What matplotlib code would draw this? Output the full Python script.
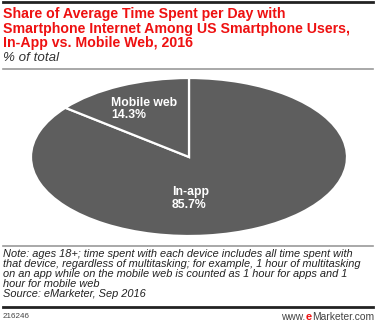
import matplotlib
matplotlib.use("Agg")
from matplotlib import pyplot as plt
from matplotlib.lines import Line2D

plt.rcParams['font.family'] = ['Liberation Sans', 'DejaVu Sans']

# data
labels = ['In-app', 'Mobile web']
values = [85.7, 14.3]
title_lines = ["Share of Average Time Spent per Day with",
               "Smartphone Internet Among US Smartphone Users,",
               "In-App vs. Mobile Web, 2016"]
subtitle = "% of total"
note_lines = ["Note: ages 18+; time spent with each device includes all time spent with",
              "that device, regardless of multitasking; for example, 1 hour of multitasking",
              "on an app while on the mobile web is counted as 1 hour for apps and 1",
              "hour for mobile web",
              "Source: eMarketer, Sep 2016"]
chart_id = "216246"

W, H = 376, 324
fig = plt.figure(figsize=(W / 100, H / 100), dpi=100)
fig.patch.set_facecolor('white')

def px(x, y):
    return x / W, 1 - y / H

# rules
def hline(y, lw, color, x0=3, x1=373):
    a, b = px(x0, y)
    c, _ = px(x1, y)
    fig.add_artist(Line2D([a, c], [b, b], color=color, linewidth=lw, transform=fig.transFigure))

hline(2, 2.0, '#222222')
hline(69, 1.2, '#9a9a9a')
hline(246, 1.2, '#9a9a9a')
hline(307, 2.0, '#222222')

# title
for i, line in enumerate(title_lines):
    fig.text(*px(3, 14 + i * 14.5), line, color='#ee1111', fontsize=10.2, fontweight='bold',
             va='center', ha='left')
fig.text(*px(3, 58), subtitle, color='#333333', fontsize=9.6, style='italic',
         va='center', ha='left')

# pie (stretched into an ellipse)
cx, cy, rx, ry = 189, 157, 158, 79
l, t = px(cx - rx, cy - ry)
r, b = px(cx + rx, cy + ry)
ax = fig.add_axes([l, b, r - l, t - b])
ax.pie(values, startangle=90, counterclock=False, colors=['#5e5e5e', '#5e5e5e'],
       wedgeprops=dict(edgecolor='white', linewidth=1.6))
ax.set_aspect('auto')
ax.set_xlim(-1, 1)
ax.set_ylim(-1, 1)
ax.axis('off')

slice_labels = {'Mobile web': (111, 103), 'In-app': (172, 192)}
for name, v in zip(labels, values):
    x0, y0 = slice_labels[name]
    fig.text(*px(x0, y0), name, color='white', fontsize=8.8, fontweight='bold',
             va='center', ha='left')
    fig.text(*px(x0, y0 + 12.5), f"{v:.1f}%", color='white', fontsize=8.8, fontweight='bold',
             va='center', ha='left')

# note
for i, line in enumerate(note_lines):
    fig.text(*px(3, 254 + i * 10), line, color='#222222', fontsize=7.9, style='italic',
             va='center', ha='left')

# footer
fig.text(*px(3, 317), chart_id, color='#444444', fontsize=5.8, va='center', ha='left')
t1 = fig.text(*px(374, 317), "Marketer.com", fontsize=7.4, va='center', ha='right', color='#444444')
fig.canvas.draw()
bb = t1.get_window_extent()
t2 = fig.text(bb.x0 / fig.bbox.width, px(0, 317)[1], "e", fontsize=8, fontweight='bold',
              va='center', ha='right', color='#ee1111')
fig.canvas.draw()
bb2 = t2.get_window_extent()
fig.text(bb2.x0 / fig.bbox.width, px(0, 317)[1], "www.", fontsize=7.4, va='center', ha='right',
         color='#444444')

fig.savefig('out.png', dpi=100, facecolor='white')
